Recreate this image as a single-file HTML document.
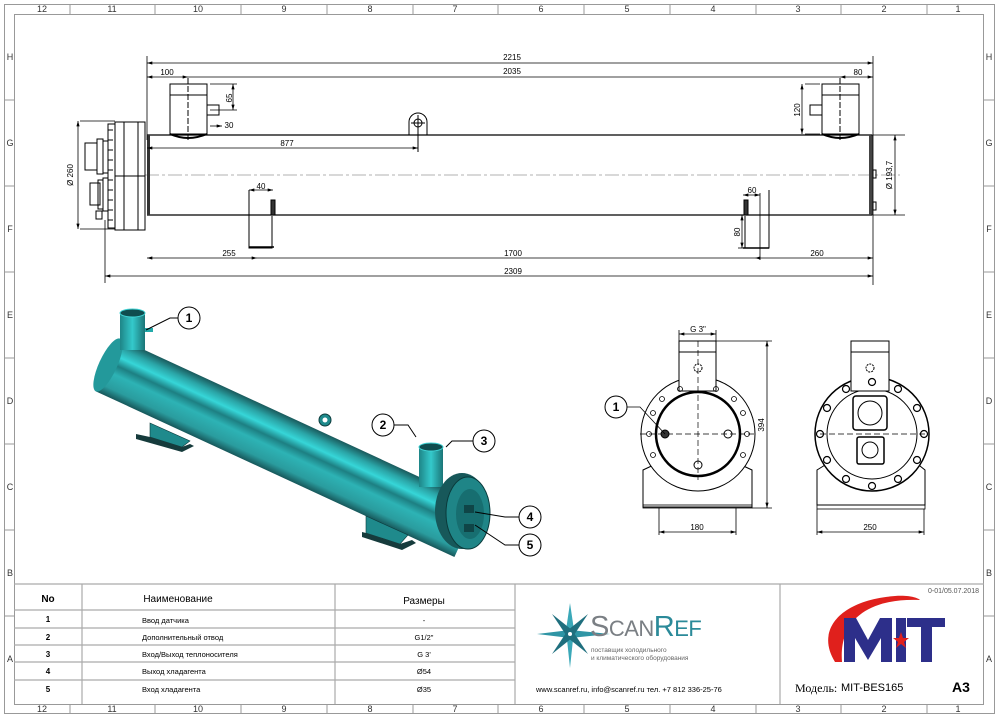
<!DOCTYPE html>
<html><head><meta charset="utf-8"><style>
body{margin:0;background:#fff;}
svg{display:block;font-family:"Liberation Sans",sans-serif;}
</style></head><body>
<svg width="1000" height="718" viewBox="0 0 1000 718" xmlns="http://www.w3.org/2000/svg">
<defs>
<marker id="a" viewBox="0 0 10 6" refX="10" refY="3" markerWidth="7" markerHeight="4" orient="auto-start-reverse"><path d="M0,0L10,3L0,6z" fill="#000"/></marker>
<linearGradient id="tube" x1="0" y1="0" x2="0" y2="1">
<stop offset="0" stop-color="#1a5a5c"/><stop offset="0.15" stop-color="#2aa4a6"/><stop offset="0.3" stop-color="#36d6d8"/><stop offset="0.45" stop-color="#1d7f82"/><stop offset="0.6" stop-color="#2db3b5"/><stop offset="0.85" stop-color="#2a9c9e"/><stop offset="1" stop-color="#17575a"/></linearGradient>
<linearGradient id="noz" x1="0" y1="0" x2="1" y2="0"><stop offset="0" stop-color="#1e8587"/><stop offset="0.5" stop-color="#34c9cb"/><stop offset="1" stop-color="#1b7577"/></linearGradient>
</defs>
<g fill="none" stroke="#999" stroke-width="1">
<rect x="4.5" y="4.5" width="990" height="709"/>
<rect x="14.5" y="14.5" width="969" height="690"/>
<path d="M70 5V14M155 5V14M241 5V14M327 5V14M413 5V14M498 5V14M584 5V14M670 5V14M756 5V14M841 5V14M927 5V14"/>
<path d="M70 704V713M155 704V713M241 704V713M327 704V713M413 704V713M498 704V713M584 704V713M670 704V713M756 704V713M841 704V713M927 704V713"/>
<path d="M5 100H14M5 186H14M5 272H14M5 358H14M5 444H14M5 530H14M5 616H14M984 100H994M984 186H994M984 272H994M984 358H994M984 444H994M984 530H994M984 616H994"/>
</g>
<g font-size="9" fill="#333" text-anchor="middle">
<text x="42" y="12">12</text><text x="112" y="12">11</text><text x="198" y="12">10</text><text x="284" y="12">9</text><text x="370" y="12">8</text><text x="455" y="12">7</text><text x="541" y="12">6</text><text x="627" y="12">5</text><text x="713" y="12">4</text><text x="798" y="12">3</text><text x="884" y="12">2</text><text x="958" y="12">1</text>
<text x="42" y="712">12</text><text x="112" y="712">11</text><text x="198" y="712">10</text><text x="284" y="712">9</text><text x="370" y="712">8</text><text x="455" y="712">7</text><text x="541" y="712">6</text><text x="627" y="712">5</text><text x="713" y="712">4</text><text x="798" y="712">3</text><text x="884" y="712">2</text><text x="958" y="712">1</text>
<text x="10" y="60">H</text><text x="10" y="146">G</text><text x="10" y="232">F</text><text x="10" y="318">E</text><text x="10" y="404">D</text><text x="10" y="490">C</text><text x="10" y="576">B</text><text x="10" y="662">A</text>
<text x="989" y="60">H</text><text x="989" y="146">G</text><text x="989" y="232">F</text><text x="989" y="318">E</text><text x="989" y="404">D</text><text x="989" y="490">C</text><text x="989" y="576">B</text><text x="989" y="662">A</text>
</g>

<g stroke="#000" fill="none" stroke-width="1">
<path d="M147 135H872M147 215H872" stroke-width="1.3"/>
<path d="M145 175H900" stroke="#666" stroke-dasharray="14 3 3 3" stroke-width="0.6"/>
<rect x="147" y="135" width="3" height="80" fill="#333" stroke="none"/>
<rect x="869" y="135" width="4" height="80" fill="#444" stroke="none"/>
<rect x="873" y="170" width="3" height="8"/><rect x="873" y="202" width="3" height="8"/>
<rect x="115" y="122" width="30" height="108"/><path d="M124 122V230M138 122V230M115 176H145"/>
<path d="M108 124h7v104h-7z"/>
<path d="M108 130h5M108 140h5M108 150h5M108 160h5M108 170h5M108 180h5M108 190h5M108 200h5M108 210h5M108 220h5"/>
<rect x="85" y="143" width="12" height="27"/><rect x="97" y="139" width="6" height="35"/><rect x="103" y="141" width="5" height="32"/>
<rect x="90" y="183" width="10" height="22"/><rect x="98" y="180" width="5" height="29"/><rect x="103" y="178" width="5" height="33"/>
<rect x="96" y="211" width="6" height="8"/>
<rect x="170" y="84" width="37" height="50"/><path d="M170 95H207"/>
<path d="M170 134Q188 142 207 134" stroke-width="2"/>
<rect x="207" y="105" width="12" height="10"/>
<rect x="822" y="84" width="37" height="50"/><path d="M822 95H859"/>
<path d="M822 134Q840 142 859 134" stroke-width="2"/>
<rect x="810" y="105" width="12" height="10"/>
<path d="M188 78V140M840 78V140" stroke-dasharray="6 2"/>
<path d="M409 135V122A9 9 0 0 1 427 122V135"/><circle cx="418" cy="123" r="4"/><path d="M418 115V152M411 123H425"/>
<path d="M249 190V248H272V216"/><rect x="271" y="200" width="4" height="15" fill="#333"/>
<path d="M249 247H274" stroke-width="1.5"/>
<path d="M769 190V248H745V216"/><rect x="744" y="200" width="4" height="15" fill="#333"/>
<path d="M743 248H769" stroke-width="1.5"/>
<g stroke-width="0.8">
<path d="M147 56V140M873 56V285M105 220V283M80 121H115M80 229H115M871 135H905M871 215H905"/>
<path d="M147 63H873" marker-start="url(#a)" marker-end="url(#a)"/>
<path d="M147 77H188" marker-start="url(#a)" marker-end="url(#a)"/>
<path d="M188 77H840"/>
<path d="M840 77H873" marker-start="url(#a)" marker-end="url(#a)"/>
<path d="M147 148H418" marker-start="url(#a)" marker-end="url(#a)"/>
<path d="M147 258H257" marker-start="url(#a)" marker-end="url(#a)"/>
<path d="M257 258H755"/>
<path d="M755 258H873" marker-start="url(#a)" marker-end="url(#a)"/>
<path d="M105 276H873" marker-start="url(#a)" marker-end="url(#a)"/>
<path d="M78 121V229" marker-start="url(#a)" marker-end="url(#a)"/>
<path d="M895 135V215" marker-start="url(#a)" marker-end="url(#a)"/>
<path d="M210 84H237M210 110H237"/><path d="M233 84V110" marker-start="url(#a)" marker-end="url(#a)"/>
<path d="M210 126H222" marker-end="url(#a)"/>
<path d="M805 84H820M805 134H820"/><path d="M802 84V134" marker-start="url(#a)" marker-end="url(#a)"/>
<path d="M249 190H273" marker-start="url(#a)" marker-end="url(#a)"/>
<path d="M743 195H760" marker-start="url(#a)" marker-end="url(#a)"/><path d="M760 193V260"/>
<path d="M742 215V248" marker-start="url(#a)" marker-end="url(#a)"/><path d="M738 248H748"/>
</g>
</g>
<g font-size="8" fill="#000" text-anchor="middle">
<text x="512" y="60">2215</text><text x="512" y="74">2035</text><text x="167" y="75">100</text><text x="858" y="75">80</text>
<text x="287" y="146">877</text><text x="229" y="256">255</text><text x="513" y="256">1700</text><text x="817" y="256">260</text><text x="513" y="274">2309</text>
<text x="229" y="128">30</text><text x="261" y="189">40</text><text x="752" y="193">60</text>
<text transform="translate(232,98) rotate(-90)">65</text>
<text transform="translate(800,110) rotate(-90)">120</text>
<text transform="translate(740,232) rotate(-90)">80</text>
<text transform="translate(73,175) rotate(-90)">Ø 260</text>
<text transform="translate(892,175) rotate(-90)">Ø 193,7</text>
</g>

<!-- 3D view -->
<g>
<g transform="translate(108,365) rotate(24.8)">
<rect x="0" y="-29" width="395" height="58" fill="url(#tube)"/>
<ellipse cx="0" cy="0" rx="9" ry="29" fill="#23999b"/>
</g>
<polygon points="150,423 190,441 182,447 150,437" fill="#1f8a8c" stroke="#0b3b3c" stroke-width="0.6"/>
<polygon points="136,434 150,437 182,447 190,444 194,446 182,452 136,439" fill="#163b3c"/>
<polygon points="366,516 408,535 400,544 366,533" fill="#1f8a8c" stroke="#0b3b3c" stroke-width="0.6"/>
<polygon points="362,532 366,533 400,544 412,540 416,543 402,550 362,537" fill="#163b3c"/>
<rect x="120" y="313" width="25" height="37" fill="url(#noz)"/>
<ellipse cx="132.5" cy="313" rx="12.5" ry="4" fill="#0f4d4f" stroke="#41d4d6"/>
<rect x="145" y="328" width="8" height="4" fill="#2aa" />
<rect x="419" y="447" width="24" height="40" fill="url(#noz)"/>
<ellipse cx="431" cy="447" rx="12" ry="4" fill="#0f4d4f" stroke="#41d4d6"/>
<circle cx="325" cy="420" r="6" fill="#1f8a8c" stroke="#0b3b3c"/><circle cx="325" cy="420" r="2.5" fill="#fff"/>
<ellipse cx="462" cy="511" rx="27" ry="38" fill="#17585a"/>
<ellipse cx="468" cy="513" rx="22" ry="36" fill="#1f8587" stroke="#0a3a3b"/>
<ellipse cx="470" cy="514" rx="14" ry="25" fill="#176e70"/>
<rect x="464" y="505" width="10" height="8" fill="#0f4547"/><rect x="464" y="524" width="10" height="8" fill="#0f4547"/>
</g>
<g stroke="#000" fill="#fff" stroke-width="1">
<path d="M146 330L170 318H178" fill="none"/>
<path d="M416 437L408 425H394" fill="none"/>
<path d="M446 447L452 441H473" fill="none"/>
<path d="M475 512L505 517H519" fill="none"/>
<path d="M475 525L505 545H519" fill="none"/>
<circle cx="189" cy="318" r="11"/><circle cx="383" cy="425" r="11"/><circle cx="484" cy="441" r="11"/><circle cx="530" cy="517" r="11"/><circle cx="530" cy="545" r="11"/>
</g>
<g font-size="12" font-weight="bold" text-anchor="middle" fill="#000">
<text x="189" y="322">1</text><text x="383" y="429">2</text><text x="484" y="445">3</text><text x="530" y="521">4</text><text x="530" y="549">5</text>
</g>

<g stroke="#000" fill="none" stroke-width="1">
<path d="M643 507V470L660 462A57 57 0 0 0 735 462L752 470V507Z"/>
<rect x="643" y="505" width="109" height="3" stroke-width="0.8"/>
<circle cx="698" cy="434" r="57" fill="#fff"/>
<circle cx="698" cy="434" r="42" stroke-width="2.5"/>
<rect x="679" y="341" width="37" height="50" fill="#fff"/><path d="M679 352H716"/>
<path d="M698 341V480M640 434H755" stroke-dasharray="6 3" stroke-width="0.7"/>
<circle cx="698" cy="368" r="4" stroke-dasharray="2 1"/>
<circle cx="665" cy="434" r="4" fill="#333"/><circle cx="728" cy="434" r="4"/><circle cx="698" cy="465" r="4"/>
<g stroke-width="0.8"><circle cx="649" cy="434" r="2.5"/><circle cx="747" cy="434" r="2.5"/><circle cx="653" cy="413" r="2.5"/><circle cx="743" cy="413" r="2.5"/><circle cx="653" cy="455" r="2.5"/><circle cx="743" cy="455" r="2.5"/><circle cx="662" cy="399" r="2.5"/><circle cx="734" cy="399" r="2.5"/><circle cx="680" cy="389" r="2.5"/><circle cx="716" cy="389" r="2.5"/></g>
<path d="M817 505V470L830 462A57 57 0 0 0 915 462L925 470V505Z"/>
<rect x="817" y="505" width="108" height="4" stroke-width="0.8"/>
<circle cx="872" cy="434" r="57" fill="#fff" stroke-width="1.5"/>
<circle cx="872" cy="434" r="45"/>
<rect x="851" y="341" width="38" height="50" fill="#fff"/><path d="M851 352H889"/>
<circle cx="870" cy="368" r="4" stroke-dasharray="2 1"/>
<path d="M820 434H925" stroke-dasharray="6 3" stroke-width="0.7"/>
<rect x="853" y="396" width="34" height="34" rx="3" stroke-width="1.5"/><circle cx="870" cy="413" r="12"/>
<rect x="857" y="437" width="27" height="27" rx="2" stroke-width="1.5"/><circle cx="870" cy="450" r="8"/>
<g stroke-width="1.2"><circle cx="872" cy="382" r="3.5"/><circle cx="872" cy="486" r="3.5"/><circle cx="820" cy="434" r="3.5"/><circle cx="924" cy="434" r="3.5"/><circle cx="846" cy="389" r="3.5"/><circle cx="898" cy="389" r="3.5"/><circle cx="846" cy="479" r="3.5"/><circle cx="898" cy="479" r="3.5"/><circle cx="827" cy="408" r="3.5"/><circle cx="917" cy="408" r="3.5"/><circle cx="827" cy="460" r="3.5"/><circle cx="917" cy="460" r="3.5"/></g>
<g stroke-width="0.8">
<path d="M679 330V341M716 330V341"/><path d="M679 334H716" marker-start="url(#a)" marker-end="url(#a)"/>
<path d="M716 341H772M752 508H772"/><path d="M767 341V508" marker-start="url(#a)" marker-end="url(#a)"/>
<path d="M659 508V535M736 508V535"/><path d="M659 532H736" marker-start="url(#a)" marker-end="url(#a)"/>
<path d="M817 509V535M924 509V535"/><path d="M817 532H924" marker-start="url(#a)" marker-end="url(#a)"/>
<path d="M626 407H640L665 434"/>
</g>
<circle cx="616" cy="407" r="11" fill="#fff"/>
</g>
<g font-size="8" fill="#000" text-anchor="middle">
<text x="698" y="332">G 3"</text><text x="697" y="530">180</text><text x="870" y="530">250</text>
<text transform="translate(764,425) rotate(-90)">394</text>
<text x="616" y="411" font-size="12" font-weight="bold">1</text>
</g>

<g stroke="#aaa" fill="none" stroke-width="1.2">
<path d="M14 584H984M14 610H515M14 628H515M14 645H515M14 662H515M14 680H515M82 584V704M335 584V704M515 584V704M780 584V704"/>
</g>
<g fill="#000" text-anchor="middle">
<text x="48" y="602" font-size="10" font-weight="bold">No</text>
<text x="178" y="602" font-size="10">Наименование</text>
<text x="424" y="604" font-size="10">Размеры</text>
<g font-size="8" font-weight="bold"><text x="48" y="622">1</text><text x="48" y="640">2</text><text x="48" y="657">3</text><text x="48" y="674">4</text><text x="48" y="692">5</text></g>
<g font-size="7.5"><text x="424" y="623">-</text><text x="424" y="640">G1/2"</text><text x="424" y="657">G 3'</text><text x="424" y="674">Ø54</text><text x="424" y="692">Ø35</text></g>
</g>
<g font-size="7.5" fill="#000"><text x="142" y="623">Ввод датчика</text><text x="142" y="640">Дополнительный отвод</text><text x="142" y="657">Вход/Выход теплоносителя</text><text x="142" y="674">Выход хладагента</text><text x="142" y="692">Вход хладагента</text></g>

<g>
<polygon points="570,603 574,630 570,668 566,630" fill="#3aa8b8"/>
<polygon points="537,634 570,630 610,634 570,638" fill="#2f95a5"/>
<polygon points="552,614 572,630 588,654 568,638" fill="#1f6f7e"/>
<polygon points="588,614 572,638 552,654 568,630" fill="#1f6f7e"/>
<circle cx="570" cy="634" r="2" fill="#fff"/>
<text x="590" y="636" font-size="29" fill="#7a7f84" letter-spacing="-0.5">S<tspan font-size="22">CAN</tspan><tspan fill="#2b8a99">R<tspan font-size="22">EF</tspan></tspan></text>
<text x="591" y="652" font-size="6.5" fill="#666">поставщик  холодильного</text>
<text x="591" y="660" font-size="6.5" fill="#666">и климатического  оборудования</text>
<text x="536" y="692" font-size="7.5" fill="#000">www.scanref.ru, info@scanref.ru тел. +7 812 336-25-76</text>
</g>
<g>
<path d="M835 662C815 630 840 600 895 596C910 595 918 598 920 600C880 598 838 612 842 662Z" fill="#e0201c"/>
<polygon points="844,618 856,618 868,640 880,618 892,618 892,662 881,662 881,638 868,660 855,638 855,662 844,662" fill="#2d2f8a"/>
<rect x="896" y="618" width="10" height="44" fill="#2d2f8a"/>
<rect x="907" y="618" width="38" height="9" fill="#2d2f8a"/><rect x="921" y="618" width="11" height="44" fill="#2d2f8a"/>
<polygon points="901,632 903,638 909,638 904,642 906,648 901,644 896,648 898,642 893,638 899,638" fill="#e0201c"/>
<text x="979" y="593" font-size="7" fill="#555" text-anchor="end">0-01/05.07.2018</text>
<text x="795" y="692" font-size="12" font-family="Liberation Serif,serif" fill="#000">Модель:</text>
<text x="841" y="691" font-size="11" fill="#000">MIT-BES165</text>
<text x="952" y="692" font-size="14" font-weight="bold" fill="#000">A3</text>
</g>
</svg>
</body></html>
